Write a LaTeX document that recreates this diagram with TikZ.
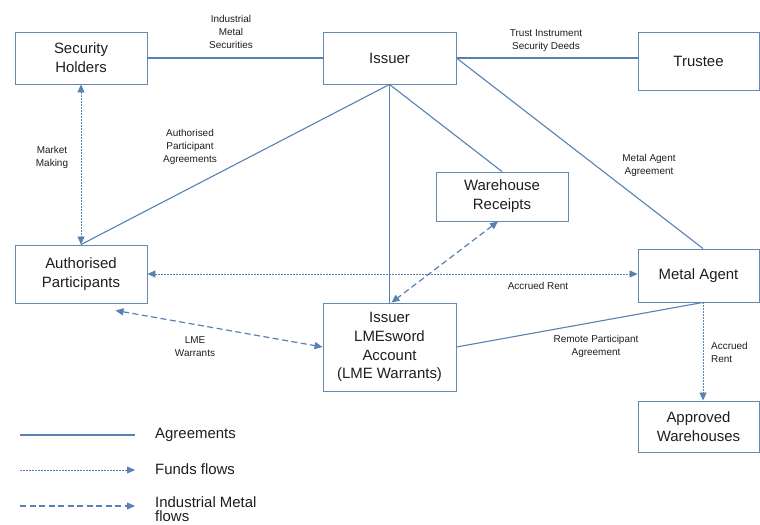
\documentclass[tikz,border=0pt]{standalone}
\usepackage{fontspec}
\setmainfont{Liberation Sans}
\usetikzlibrary{arrows.meta,calc}
\definecolor{lineblue}{RGB}{88,130,178}
\definecolor{boxblue}{RGB}{100,138,180}
\definecolor{txt}{RGB}{30,30,30}
\tikzset{
  box/.style={draw=boxblue, line width=0.9bp, rectangle, align=center, inner sep=0pt,
    font=\fontsize{15}{19}\selectfont, text=txt},
  lbl/.style={align=center, inner sep=0pt, font=\fontsize{10}{13}\selectfont, text=txt},
  legtxt/.style={align=left, anchor=west, inner sep=0pt, font=\fontsize{15}{14}\selectfont, text=txt},
  agree/.style={draw=lineblue, line width=1.1bp},
  funds/.style={draw=lineblue, line width=0.8bp, dash pattern=on 2bp off 1bp},
  metal/.style={draw=lineblue, line width=1.2bp, dash pattern=on 6bp off 3.5bp},
  tip/.style={-{Triangle[length=8bp,width=7bp]}},
  tips/.style={{Triangle[length=8bp,width=7bp]}-{Triangle[length=8bp,width=7bp]}},
}
\begin{document}
\begin{tikzpicture}[x=1bp,y=-1bp]
\useasboundingbox (0,0) rectangle (760,525);
\fill[white] (0,0) rectangle (760,525);

% boxes
\node[box, minimum width=132bp, minimum height=52bp] (sh) at (81,58) {Security\\Holders};
\node[box, minimum width=133bp, minimum height=52bp] (iss) at (389.5,58) {Issuer};
\node[box, minimum width=121bp, minimum height=58bp] (tr) at (698.5,61) {Trustee};
\node[box, minimum width=132bp, minimum height=49bp] (wr) at (502,196.5) {Warehouse\\Receipts};
\node[box, minimum width=132bp, minimum height=58bp] (ap) at (81,274) {Authorised\\Participants};
\node[box, minimum width=133bp, minimum height=88bp] (lme) at (389.5,347) {Issuer\\LMEsword\\Account\\(LME Warrants)};
\node[box, minimum width=121bp, minimum height=53bp] (ma) at (698.5,275.5) {Metal Agent};
\node[box, minimum width=121bp, minimum height=51bp] (aw) at (698.5,426.5) {Approved\\Warehouses};

% agreements
\draw[agree] (sh.east) -- (iss.west);
\draw[agree] (iss.east) -- (iss.east -| tr.west);
\draw[agree] (iss.south) -- (ap.north);
\draw[agree] (iss.south) -- (wr.north);
\draw[agree] (iss.south) -- (lme.north);
\draw[agree] (iss.east) -- ([xshift=4.5bp]ma.north);
\draw[agree] (lme.east) -- ([xshift=4.5bp]ma.south);

% funds flows
\draw[funds, tips] (sh.south) -- (ap.north);
\draw[funds, tips] (ap.east) -- (ap.east -| ma.west);
\draw[funds, tip] ([xshift=4.5bp]ma.south) -- ([xshift=4.5bp]aw.north);

% metal flows
\draw[metal, tips] ([xshift=-4bp]wr.south) -- ([xshift=2bp]lme.north);
\coordinate (apb) at ($(ap.south east)+(-32,7)$);
\draw[metal, tips] (apb) -- (lme.west);

% labels
\node[lbl] (l1) at (231,32) {Industrial\\Metal\\Securities};
\node[lbl] (l2) at (546,41) {Trust Instrument\\Security Deeds};
\node[lbl] (l3) at (52,157) {Market\\Making};
\node[lbl] (l4) at (190,147) {Authorised\\Participant\\Agreements};
\node[lbl] (l5) at (649,165) {Metal Agent\\Agreement};
\node[lbl] (l6) at (538,286) {Accrued Rent};
\node[lbl] (l7) at (195,347) {LME\\Warrants};
\node[lbl] (l8) at (596,346.5) {Remote Participant\\Agreement};
\node[lbl, align=left, anchor=west] (l9) at (711,352) {Accrued\\Rent};

% legend
\coordinate (a1) at (20,435);
\coordinate (a2) at (135,435);
\draw[agree] (a1) -- (a2);
\node[legtxt] (t1) at (155,435) {Agreements};
\coordinate (b1) at (20,470);
\coordinate (b2) at (135,470);
\draw[funds, tip] (b1) -- (b2);
\node[legtxt] (t2) at (155,469) {Funds flows};
\coordinate (c1) at (20,506);
\coordinate (c2) at (135,506);
\draw[metal, tip] (c1) -- (c2);
\node[legtxt] (t3) at (155,509) {Industrial Metal\\flows};
\end{tikzpicture}
\end{document}
